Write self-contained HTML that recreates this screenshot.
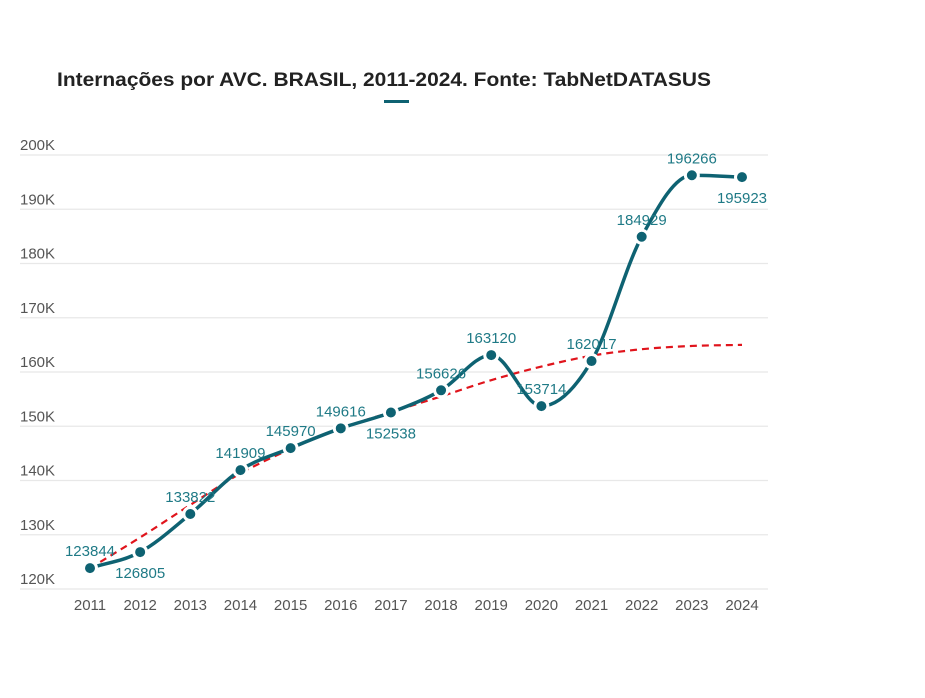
<!DOCTYPE html>
<html><head><meta charset="utf-8">
<style>
body{margin:0;background:#fff;width:925px;height:693px;overflow:hidden;font-family:"Liberation Sans",sans-serif}
</style></head>
<body>
<svg id="chart" width="925" height="693" xmlns="http://www.w3.org/2000/svg">
<text x="57" y="86" font-size="19.5" font-weight="bold" fill="#222" textLength="654" lengthAdjust="spacingAndGlyphs">Internações por AVC. BRASIL, 2011-2024. Fonte: TabNetDATASUS</text>
<rect x="384" y="100" width="25" height="3" fill="#0e6272"/>
<g id="grid"></g><g id="trend"></g><g id="series"></g><g id="labels"></g>
</svg>
<script>
const years=[2011,2012,2013,2014,2015,2016,2017,2018,2019,2020,2021,2022,2023,2024];
const values=[123844,126805,133822,141909,145970,149616,152538,156626,163120,153714,162017,184929,196266,195923];
const trendValues=[123844,129500,135500,141300,145800,149600,152600,155500,158500,161000,163000,164200,164800,165000];
const yTicks=[120000,130000,140000,150000,160000,170000,180000,190000,200000];
const labelAbove=[1,0,1,1,1,1,0,1,1,1,1,1,1,0];
const NS="http://www.w3.org/2000/svg";
const x=i=>90+i*(742-90)/(years.length-1);
const y=v=>589-(v-120000)*(589-155)/80000;
function mk(tag,attrs,parent){const e=document.createElementNS(NS,tag);for(const k in attrs)e.setAttribute(k,attrs[k]);parent.appendChild(e);return e;}
const grid=document.getElementById('grid');
yTicks.forEach(t=>{
 const l=mk('line',{x1:20,x2:768,y1:y(t),y2:y(t),stroke:'#e8e8e8','stroke-width':1.2},grid);
 
 
 const tx=mk('text',{x:20,y:y(t)-5,'font-size':15,fill:'#555'},grid);
 tx.textContent=(t/1000)+'K';
 
 
});
years.forEach((yr,i)=>{
 const tx=mk('text',{x:x(i),y:610,'font-size':15,fill:'#555','text-anchor':'middle'},grid);
 tx.textContent=yr;
 
 
});
function smooth(pts){
 const n=pts.length,d=[],m=[];
 for(let i=0;i<n-1;i++)d.push((pts[i+1][1]-pts[i][1])/(pts[i+1][0]-pts[i][0]));
 m[0]=d[0];m[n-1]=d[n-2];
 for(let i=1;i<n-1;i++)m[i]=(d[i-1]*d[i]<=0)?0:(d[i-1]+d[i])/2;
 let s='M'+pts[0][0]+','+pts[0][1];
 for(let i=0;i<n-1;i++){const h=(pts[i+1][0]-pts[i][0])/3;
  s+=` C${pts[i][0]+h},${pts[i][1]+m[i]*h} ${pts[i+1][0]-h},${pts[i+1][1]-m[i+1]*h} ${pts[i+1][0]},${pts[i+1][1]}`;}
 return s;
}
const tr=mk('path',{d:smooth(trendValues.map((v,i)=>[x(i),y(v)])),fill:'none',stroke:'#e0141c','stroke-width':2.2,'stroke-dasharray':'7,5'},document.getElementById('trend'));


const ser=document.getElementById('series');
const p=mk('path',{d:smooth(values.map((v,i)=>[x(i),y(v)])),fill:'none',stroke:'#0e6272','stroke-width':3.5},ser);


const lab=document.getElementById('labels');
values.forEach((v,i)=>{
 const c=mk('circle',{cx:x(i),cy:y(v),r:6.5,fill:'#0e6272',stroke:'#fff','stroke-width':3},ser);
 
 
 const t=mk('text',{x:x(i),y:labelAbove[i]?y(v)-12:y(v)+26,'font-size':15,fill:'#1f7a86','text-anchor':'middle'},lab);
 t.textContent=v;
 
 
});
</script>
</body></html>
